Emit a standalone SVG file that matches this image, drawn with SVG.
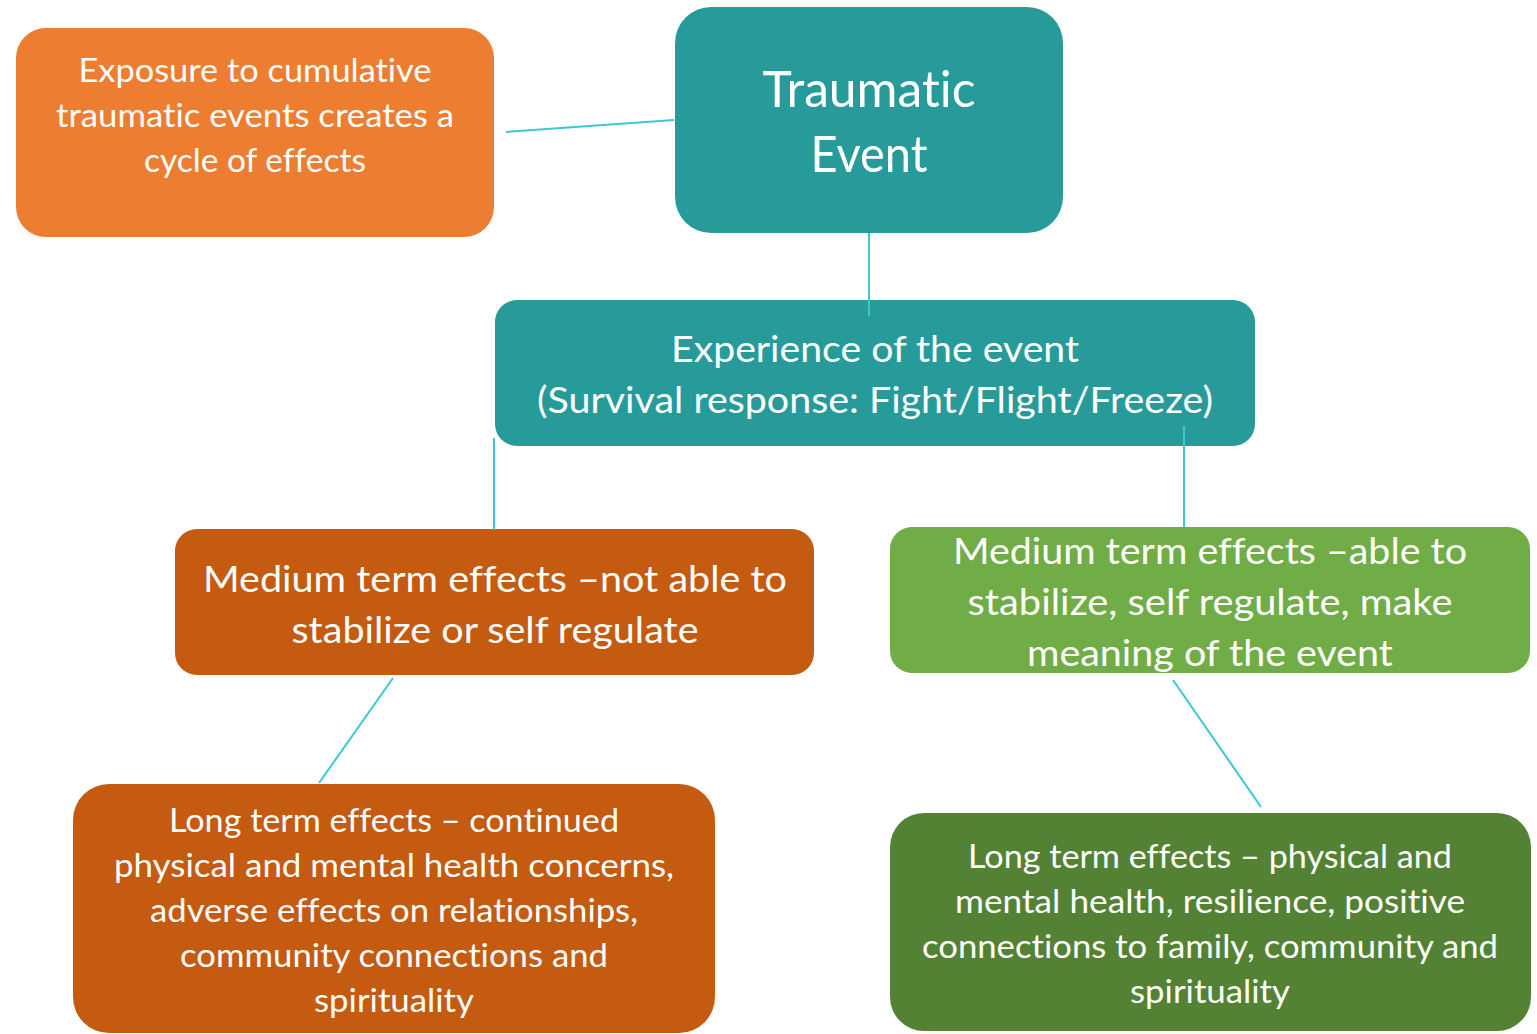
<svg xmlns="http://www.w3.org/2000/svg" width="1537" height="1034" viewBox="0 0 1537 1034">
<style>
text{font-family:Lato,"Open Sans","Liberation Sans",sans-serif;fill:#fff;text-anchor:middle;font-variant-ligatures:none;font-feature-settings:"liga" 0}
.s32{font-size:32px}
.s36{font-size:36px}
.s52{font-size:50px}
.c{stroke:#3CC8D0;stroke-width:2;fill:none}
</style>
<rect width="1537" height="1034" fill="#fff"/>
<g id="n-exposure">
<rect x="16" y="28" width="478" height="209" rx="30" fill="#ED7D31"/>
<text class="s32" x="255" y="82" textLength="353" lengthAdjust="spacingAndGlyphs">Exposure to cumulative</text>
<text class="s32" x="255" y="127" textLength="398" lengthAdjust="spacingAndGlyphs">traumatic events creates a</text>
<text class="s32" x="255" y="172" textLength="222" lengthAdjust="spacingAndGlyphs">cycle of effects</text>
</g>
<g id="n-traumatic">
<rect x="675" y="7" width="388" height="226" rx="36" fill="#279B99"/>
<text class="s52" x="869" y="107" textLength="213" lengthAdjust="spacingAndGlyphs">Traumatic</text>
<text class="s52" x="869" y="172" textLength="117" lengthAdjust="spacingAndGlyphs">Event</text>
</g>
<g id="n-experience">
<rect x="495" y="300" width="760" height="146" rx="22" fill="#279B99"/>
<text class="s36" x="875" y="362" textLength="408" lengthAdjust="spacingAndGlyphs">Experience of the event</text>
<text class="s36" x="875" y="413" textLength="676" lengthAdjust="spacingAndGlyphs">(Survival response: Fight/Flight/Freeze)</text>
</g>
<g id="n-medium-not">
<rect x="175" y="529" width="639" height="146" rx="22" fill="#C55A11"/>
<text class="s36" x="495" y="592" textLength="584" lengthAdjust="spacingAndGlyphs">Medium term effects –not able to</text>
<text class="s36" x="495" y="643" textLength="407" lengthAdjust="spacingAndGlyphs">stabilize or self regulate</text>
</g>
<g id="n-medium-able">
<rect x="890" y="527" width="640" height="146" rx="22" fill="#70AD47"/>
<text class="s36" x="1210" y="564" textLength="514" lengthAdjust="spacingAndGlyphs">Medium term effects –able to</text>
<text class="s36" x="1210" y="615" textLength="485" lengthAdjust="spacingAndGlyphs">stabilize, self regulate, make</text>
<text class="s36" x="1210" y="666" textLength="366" lengthAdjust="spacingAndGlyphs">meaning of the event</text>
</g>
<g id="n-long-negative">
<rect x="73" y="784" width="642" height="249" rx="36" fill="#C55A11"/>
<text class="s32" x="394" y="832" textLength="450" lengthAdjust="spacingAndGlyphs">Long term effects – continued</text>
<text class="s32" x="394" y="877" textLength="560" lengthAdjust="spacingAndGlyphs">physical and mental health concerns,</text>
<text class="s32" x="394" y="922" textLength="488" lengthAdjust="spacingAndGlyphs">adverse effects on relationships,</text>
<text class="s32" x="394" y="967" textLength="428" lengthAdjust="spacingAndGlyphs">community connections and</text>
<text class="s32" x="394" y="1012" textLength="160" lengthAdjust="spacingAndGlyphs">spirituality</text>
</g>
<g id="n-long-positive">
<rect x="890" y="813" width="641" height="218" rx="34" fill="#548235"/>
<text class="s32" x="1210" y="868" textLength="484" lengthAdjust="spacingAndGlyphs">Long term effects – physical and</text>
<text class="s32" x="1210" y="913" textLength="510" lengthAdjust="spacingAndGlyphs">mental health, resilience, positive</text>
<text class="s32" x="1210" y="958" textLength="576" lengthAdjust="spacingAndGlyphs">connections to family, community and</text>
<text class="s32" x="1210" y="1003" textLength="160" lengthAdjust="spacingAndGlyphs">spirituality</text>
</g>
<g id="connectors">
<line class="c" x1="506" y1="132" x2="674" y2="120"/>
<line class="c" x1="869" y1="233" x2="869" y2="316"/>
<line class="c" x1="494" y1="438" x2="494" y2="530"/>
<line class="c" x1="1184" y1="426" x2="1184" y2="527"/>
<line class="c" x1="393" y1="678" x2="319" y2="783"/>
<line class="c" x1="1173" y1="680" x2="1261" y2="807"/>
</g>
</svg>
